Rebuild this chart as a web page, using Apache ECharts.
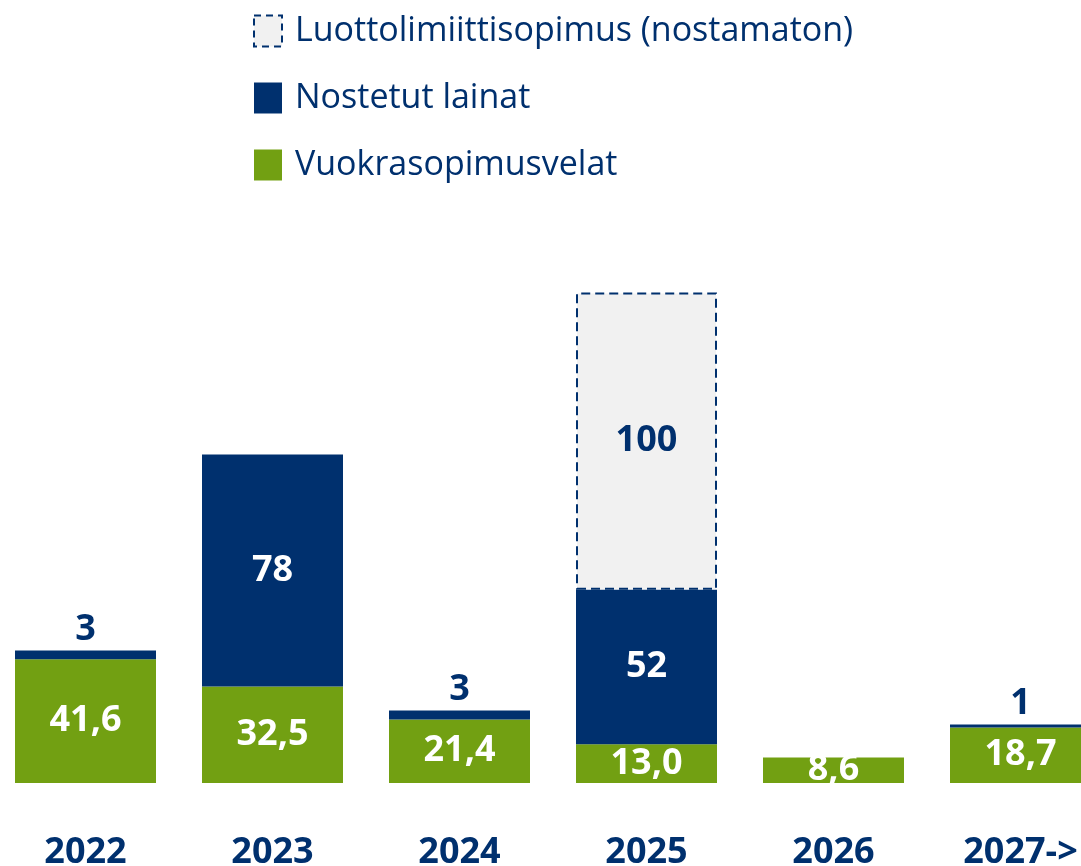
<!DOCTYPE html>
<html>
<head>
<meta charset="utf-8">
<script src="https://cdn.jsdelivr.net/npm/echarts@6/dist/echarts.min.js"></script>
<style>
html,body{margin:0;padding:0;background:#fff;overflow:hidden;}
#chart{width:1122px;height:866px;margin-left:-8px;}
</style>
</head>
<body>
<div id="chart"></div>
<script>
const categories = ['2022', '2023', '2024', '2025', '2026', '2027->'];
const leaseLiabilities = [41.6, 32.5, 21.4, 13.0, 8.6, 18.7];
const drawnLoans = [3, 78, 3, 52, null, 1];
const undrawnCreditLimit = [null, null, null, 100, null, null];
const seriesNames = ['Luottolimiittisopimus (nostamaton)', 'Nostetut lainat', 'Vuokrasopimusvelat'];

const NAVY = '#00306e';
const GREEN = '#72a012';
const LIGHT = '#f1f1f1';
const FONT = 'Open Sans';

const chart = echarts.init(document.getElementById('chart'));

const labelFont = {fontFamily: FONT, fontWeight: 'bold', fontSize: 36};

const loansData = drawnLoans.map(v => {
  if (v == null) return null;
  const small = v < 10;
  return {
    value: v,
    label: small
      ? {show: true, position: 'top', distance: 3, color: NAVY}
      : {show: true, position: 'inside', color: '#fff'}
  };
});

chart.setOption({
  backgroundColor: '#fff',
  animation: false,
  legend: {
    orient: 'vertical',
    left: 256,
    top: 9,
    icon: 'rect',
    itemWidth: 28,
    itemHeight: 31,
    itemGap: 33,
    textStyle: {fontFamily: FONT, fontSize: 34, color: NAVY, padding: [0, 0, 0, 8]},
    data: [
      {name: seriesNames[0], itemStyle: {color: LIGHT, borderColor: NAVY, borderWidth: 2, borderType: [7, 5]}},
      {name: seriesNames[1], itemStyle: {color: NAVY, borderWidth: 0}},
      {name: seriesNames[2], itemStyle: {color: GREEN, borderWidth: 0}}
    ]
  },
  grid: {left: 0, right: 0, top: 248, bottom: 83, containLabel: false, outerBoundsMode: 'none'},
  xAxis: {
    type: 'category',
    data: categories,
    axisLine: {show: false},
    axisTick: {show: false},
    axisLabel: {margin: 52, color: NAVY, fontFamily: FONT, fontWeight: 'bold', fontSize: 36}
  },
  yAxis: {
    type: 'value',
    min: 0,
    max: 180,
    show: false,
    splitLine: {show: false}
  },
  series: [
    {
      name: seriesNames[2],
      type: 'bar',
      stack: 'total',
      barWidth: 141,
      data: leaseLiabilities,
      itemStyle: {color: GREEN},
      label: Object.assign({show: true, position: 'inside', color: '#fff',
        formatter: p => p.value.toFixed(1).replace('.', ',')}, labelFont)
    },
    {
      name: seriesNames[1],
      type: 'bar',
      stack: 'total',
      barWidth: 141,
      data: loansData,
      itemStyle: {color: NAVY},
      label: Object.assign({show: true}, labelFont)
    },
    {
      name: seriesNames[0],
      type: 'bar',
      stack: 'total',
      barWidth: 141,
      data: undrawnCreditLimit,
      itemStyle: {color: LIGHT, borderColor: NAVY, borderWidth: 2, borderType: [9, 5]},
      label: Object.assign({show: true, position: 'inside', color: NAVY}, labelFont)
    }
  ]
});

// white strip just below the baseline so a label overflowing a short bar is clipped as in the reference
const base = chart.convertToPixel({gridIndex: 0}, [0, 0]);
chart.setOption({
  graphic: [{
    type: 'rect',
    z: 100,
    shape: {x: 0, y: base[1], width: 1122, height: 18},
    style: {fill: '#fff'}
  }]
});
</script>
</body>
</html>
